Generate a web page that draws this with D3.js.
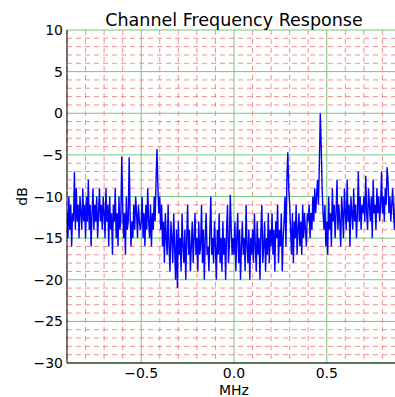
<!DOCTYPE html>
<html><head><meta charset="utf-8">
<script src="https://cdn.jsdelivr.net/npm/d3@7"></script>
<style>body{margin:0;background:#fff}svg{display:block}text{font-family:"DejaVu Sans",sans-serif;fill:#000}</style>
</head><body><svg id="c" width="395" height="397"></svg>
<script>
const title = "Channel Frequency Response";
const xLabel = "MHz";
const yLabel = "dB";
const xStart = -0.9, xStep = 0.005;
const xTicks = [-0.5, 0.0, 0.5];
const yTicks = [-30, -25, -20, -15, -10, -5, 0, 5, 10];
// response in dB, one value per 0.005 MHz from -0.9 to 0.9
const segA = [-12,-15,-10,-14,-11,-16,-12,-13,-7,-14,-9,-13,-11,-15,-10,-12,-14,-9,-13,-11];
const segB = [-15,-10,-13,-8,-14,-11,-16,-12,-9,-14,-11,-13,-10,-15,-12,-9,-13,-11,-14,-10];
const segC = [-12,-15,-9,-13,-11,-16,-10,-14,-12,-17,-11,-13,-9,-15,-12,-16,-10,-14,-13,-5.2];
const segD = [-11,-15,-12,-17,-10,-14,-13,-5.3,-12,-16,-13,-15,-11,-14,-10,-12,-15,-11,-13,-14];
const segE = [-13,-10,-15,-12,-16,-11,-14,-9,-13,-15,-11,-16,-12,-14,-10,-13,-8,-4.3,-9,-12];
const segF = [-10,-14,-11,-16,-13,-18,-12,-15,-17,-11,-16,-19,-13,-15,-18,-12,-16,-20,-14,-21];
const segG = [-13,-17,-15,-19,-12,-16,-18,-14,-20,-15,-11,-17,-14,-19,-16,-13,-18,-15,-12,-17];
const segH = [-15,-19,-13,-17,-16,-11,-18,-14,-20,-15,-12,-17,-16,-19,-14,-10,-17,-15,-18,-13];
const segI = [-16,-20,-14,-17,-12,-18,-15,-19,-13,-17,-15,-20,-14,-11,-18,-16,-9.8,-14,-17,-15];
const segJ = [-17,-13,-19,-15,-12,-18,-14,-20,-16,-13,-17,-15,-19,-11,-16,-18,-14,-20,-15,-17];
const segK = [-14,-18,-12,-16,-19,-13,-17,-15,-20,-14,-11,-18,-16,-13,-19,-15,-17,-12,-18,-14];
const segL = [-16,-12,-17,-14,-19,-13,-15,-11,-18,-14,-16,-12,-19,-15,-13,-10,-16,-8,-4.7,-9];
const segM = [-11,-14,-17,-12,-18,-13,-15,-11,-17,-14,-12,-16,-13,-17,-11,-15,-12,-14,-16,-12];
const segN = [-13,-11,-15,-12,-14,-10,-13,-9,-12,-10,-8,-11,-6,0,-4,-9,-12,-14,-11,-16];
const segO = [-13,-17,-10,-14,-12,-16,-9,-13,-11,-15,-12,-8,-14,-11,-13,-16,-10,-12,-15,-9];
const segP = [-12,-14,-8,-13,-11,-16,-10,-12,-14,-9,-13,-11,-15,-12,-7,-13,-10,-14,-11,-12];
const segQ = [-10,-13,-7.5,-12,-14,-9,-11,-13,-10,-15,-8,-12,-11,-14,-9,-12,-10,-13,-11,-7];
const segR = [-12,-10,-13,-9,-11,-6.5,-8,-12,-10,-13,-11,-9,-12,-14,-10,-11,-13,-9,-12,-10,-11];
const response = [].concat(segA,segB,segC,segD,segE,segF,segG,segH,segI,segJ,segK,segL,segM,segN,segO,segP,segQ,segR);

const svg = d3.select("#c");
const L = 67, T = 30, R = 401, B = 363;
const x = d3.scaleLinear().domain([-0.9, 0.9]).range([L, R]);
const y = d3.scaleLinear().domain([-30, 10]).range([B, T]);

const minorX = d3.range(-9, 10).map(i => i / 10).filter(v => Math.abs(v * 10 % 5) > 1e-6);
const minorY = d3.range(-30, 11).filter(v => v % 5 !== 0);

const g = svg.append("g");
g.selectAll(".mx").data(minorX).join("line")
  .attr("x1", d => x(d)).attr("x2", d => x(d)).attr("y1", T).attr("y2", B)
  .attr("stroke", "#f26b6b").attr("stroke-opacity", 0.75).attr("stroke-dasharray", "5,4").attr("stroke-width", 1);
g.selectAll(".my").data(minorY).join("line")
  .attr("y1", d => y(d)).attr("y2", d => y(d)).attr("x1", L).attr("x2", R)
  .attr("stroke", "#f26b6b").attr("stroke-opacity", 0.75).attr("stroke-dasharray", "5,4").attr("stroke-width", 1);
g.selectAll(".gx").data(xTicks).join("line")
  .attr("x1", d => x(d)).attr("x2", d => x(d)).attr("y1", T).attr("y2", B)
  .attr("stroke", "#7cc27c").attr("stroke-width", 1);
g.selectAll(".gy").data(yTicks).join("line")
  .attr("y1", d => y(d)).attr("y2", d => y(d)).attr("x1", L).attr("x2", R)
  .attr("stroke", "#7cc27c").attr("stroke-width", 1);

svg.append("clipPath").attr("id", "clip").append("rect")
  .attr("x", L).attr("y", T).attr("width", R - L).attr("height", B - T);
const line = d3.line().x((d, i) => x(xStart + i * xStep)).y(d => y(d));
svg.append("path").datum(response).attr("clip-path", "url(#clip)")
  .attr("d", line).attr("fill", "none").attr("stroke", "#0000ff").attr("stroke-width", 1.4)
  .attr("stroke-linejoin", "miter");

// spines
svg.append("line").attr("x1", L).attr("x2", L).attr("y1", T).attr("y2", B).attr("stroke", "#000");
svg.append("line").attr("x1", L).attr("x2", R).attr("y1", B).attr("y2", B).attr("stroke", "#000");

// tick labels
svg.selectAll(".yl").data(yTicks).join("text")
  .attr("x", L - 4).attr("y", d => y(d)).attr("dy", "0.36em")
  .attr("text-anchor", "end").style("font-size", "14px")
  .text(d => d3.format("d")(d).replace("-", "\u2212"));
svg.selectAll(".xl").data(xTicks).join("text")
  .attr("x", d => x(d)).attr("y", 378)
  .attr("text-anchor", "middle").style("font-size", "14px")
  .text(d => d3.format(".1f")(d).replace("-", "\u2212"));

svg.append("text").attr("x", x(0)).attr("y", 395).attr("text-anchor", "middle")
  .style("font-size", "14px").text(xLabel);
svg.append("text").attr("transform", `translate(27,${(T + B) / 2}) rotate(-90)`)
  .attr("text-anchor", "middle").style("font-size", "14px").text(yLabel);
svg.append("text").attr("x", (L + R) / 2).attr("y", 26).attr("text-anchor", "middle")
  .style("font-size", "17.5px").text(title);
</script></body></html>
